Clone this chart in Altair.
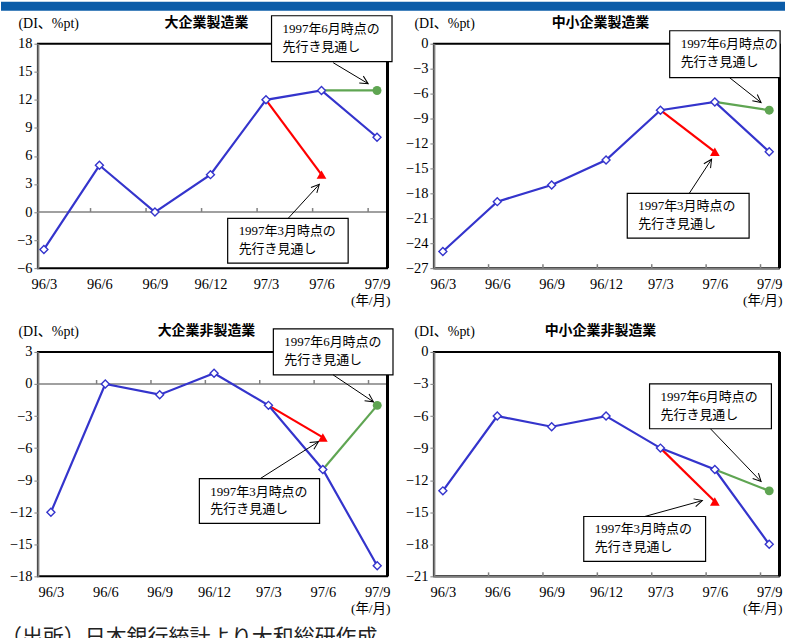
import json
import math

import altair as alt
import pandas as pd

# ---- data -------------------------------------------------------------
periods = ["96/3", "96/6", "96/9", "96/12", "97/3", "97/6", "97/9"]
titles = ["大企業製造業", "中小企業製造業", "大企業非製造業", "中小企業非製造業"]

large_mfg = [-4, 5, 0, 4, 12, 13, 8]
small_mfg = [-25, -19, -17, -14, -8, -7, -13]
large_nonmfg = [-12, 0, -1, 1, -2, -8, -17]
small_nonmfg = [-13, -6, -7, -6, -9, -11, -18]
actuals = [large_mfg, small_mfg, large_nonmfg, small_nonmfg]

# outlook for 97/6 given in the March 1997 survey, for 97/9 in the June 1997 survey
outlook_mar97 = [4, -13, -5, -14]
outlook_jun97 = [13, -8, -2, -13]

label_mar = "1997年3月時点の\n先行き見通し"
label_jun = "1997年6月時点の\n先行き見通し"
unit_y = "(DI、%pt)"
unit_x = "(年/月)"
source_note = "（出所）日本銀行統計より大和総研作成"

# ---- layout -----------------------------------------------------------
y_ranges = [(-6, 18), (-27, 0), (-18, 3), (-21, 0)]
x_ranges = [(-0.108, 6.18), (-0.165, 6.18), (-0.239, 6.18), (-0.165, 6.18)]
widths = [350, 346, 350, 346]
HEIGHT = 225
tick_marks = [0.84, 1.84, 2.84, 3.84, 4.84, 5.84]

# callout boxes [x1, x2, y1, y2] and leader arrows [x_from, y_from, x_to, y_to], data units
box_jun = [[4.10, 6.27, 16.08, 20.99], [4.17, 6.20, -4.08, 1.56],
           [4.09, 6.29, 0.85, 5.15], [3.80, 6.04, -7.19, -2.99]]
arrow_jun = [[5.21, 15.97, 5.84, 13.73], [5.27, -4.08, 5.85, -7.08],
             [5.19, 0.85, 5.93, -1.67], [4.92, -7.19, 5.85, -12.13]]
box_mar = [[3.31, 5.48, -5.47, -0.67], [3.39, 5.63, -23.4, -18.0],
           [2.73, 4.94, -13.05, -8.85], [2.59, 4.83, -19.6, -15.4]]
arrow_mar = [[4.40, -0.67, 4.96, 2.96], [4.53, -18.0, 4.94, -13.9],
             [3.85, -8.85, 4.92, -5.40], [3.71, -15.4, 4.77, -13.91]]

BLUE = "#3434CC"
RED = "#FF0000"
GREEN = "#5FA552"
GRAY = "#808080"
SERIF = "'Liberation Serif', 'DejaVu Serif', serif"
SERIF_JP = "'Liberation Serif', 'DejaVu Serif', 'Noto Sans CJK JP'"
SANS = "'Noto Sans CJK JP'"
ARROW_HEAD = "M -1 -0.5 L 0 0 L -1 0.5"


def make_panel(k):
    vals = actuals[k]
    lo, hi = y_ranges[k]
    x_lo, x_hi = x_ranges[k]
    w = widths[k]
    base = 0 if lo < 0 < hi else lo

    x_scale = alt.Scale(domain=[x_lo, x_hi], nice=False, zero=False)
    y_scale = alt.Scale(domain=[lo, hi], nice=False, zero=False)

    x_axis = alt.Axis(
        values=list(range(len(periods))), tickCount=40,
        labelExpr=f"{json.dumps(periods)}[datum.value]",
        ticks=False, grid=False, domain=(base == lo),
        domainColor=GRAY, domainWidth=2,
        labelFont=SERIF, labelFontSize=14.5, labelColor="black",
        labelPadding=9, labelFlush=False, labelOverlap=False,
        title=unit_x, titleFont=SERIF_JP, titleFontSize=13.5, titleFontWeight="normal",
        titleColor="black", titleAlign="right", titleBaseline="middle",
        titleX=w + 3, titleY=32,
    )
    y_axis = alt.Axis(
        values=list(range(lo, hi + 1, 3)), tickCount=40, format="d",
        grid=False, tickColor=GRAY, tickSize=4, domainColor=GRAY, domainWidth=2,
        labelFont=SERIF, labelFontSize=14.5, labelColor="black", labelPadding=2,
        labelOverlap=False, labelFlush=False,
        title=unit_y, titleFont=SERIF_JP, titleFontSize=14, titleFontWeight="normal",
        titleColor="black", titleAngle=0, titleAlign="left", titleBaseline="middle",
        titleX=-20, titleY=-20,
    )
    X = alt.X("i:Q", scale=x_scale, axis=x_axis)
    Y = alt.Y("v:Q", scale=y_scale, axis=y_axis)

    actual_df = pd.DataFrame({"i": list(range(len(vals))), "v": vals})
    mar_df = pd.DataFrame({"i": [4, 5], "v": [vals[4], outlook_mar97[k]]})
    jun_df = pd.DataFrame({"i": [5, 6], "v": [vals[5], outlook_jun97[k]]})
    tick_df = pd.DataFrame({"i": tick_marks, "v": [base] * len(tick_marks)})
    one = pd.DataFrame({"i": [0], "v": [0]})

    boxes = pd.DataFrame({
        "i": [box_mar[k][0], box_jun[k][0]], "i2": [box_mar[k][1], box_jun[k][1]],
        "v": [box_mar[k][2], box_jun[k][2]], "v2": [box_mar[k][3], box_jun[k][3]],
    })
    texts = pd.DataFrame({
        "i": [box_mar[k][0], box_jun[k][0]],
        "v": [box_mar[k][3], box_jun[k][3]],
        "label": [label_mar, label_jun],
    })
    sx = w / (x_hi - x_lo)
    sy = HEIGHT / (hi - lo)
    arrows = []
    for a in (arrow_mar[k], arrow_jun[k]):
        ang = math.degrees(math.atan2(-(a[3] - a[1]) * sy, (a[2] - a[0]) * sx)) % 360
        arrows.append({"i": a[0], "v": a[1], "i2": a[2], "v2": a[3], "ang": ang})
    arrows = pd.DataFrame(arrows)
    heads = pd.DataFrame({"i": arrows["i2"], "v": arrows["v2"], "ang": arrows["ang"]})

    layers = []
    if k == 0:
        # page header band
        layers.append(alt.Chart(one).mark_rect(color="#0B5CA8").encode(
            x=alt.value(-37), x2=alt.value(749), y=alt.value(-42), y2=alt.value(-33)))
    layers.append(alt.Chart(actual_df).mark_line(strokeWidth=0, opacity=0).encode(x=X, y=Y))
    if base == 0:
        layers.append(alt.Chart(one).mark_rule(color=GRAY, strokeWidth=1.5).encode(
            y=alt.Y("v:Q")))
    layers.append(alt.Chart(tick_df).mark_rule(color=GRAY, strokeWidth=1.5, y2Offset=-4).encode(
        x="i:Q", y="v:Q", y2="v:Q"))
    # right-hand frame edge, drawn a little heavier
    layers.append(alt.Chart(one).mark_rule(color="black", strokeWidth=3).encode(
        x=alt.value(w + 0.5)))
    layers.append(alt.Chart(mar_df).mark_line(color=RED, strokeWidth=2.2).encode(x="i:Q", y="v:Q"))
    layers.append(alt.Chart(jun_df).mark_line(color=GREEN, strokeWidth=2.2).encode(x="i:Q", y="v:Q"))
    layers.append(alt.Chart(actual_df).mark_line(color=BLUE, strokeWidth=2.2).encode(x="i:Q", y="v:Q"))
    layers.append(alt.Chart(actual_df).mark_point(
        shape="diamond", size=64, filled=True, fill="white", stroke=BLUE, strokeWidth=1.4,
        opacity=1).encode(x="i:Q", y="v:Q"))
    layers.append(alt.Chart(mar_df.iloc[[1]]).mark_point(
        shape="triangle-up", size=95, filled=True, color=RED, opacity=1).encode(x="i:Q", y="v:Q"))
    layers.append(alt.Chart(jun_df.iloc[[1]]).mark_point(
        shape="circle", size=80, filled=True, color=GREEN, opacity=1).encode(x="i:Q", y="v:Q"))
    layers.append(alt.Chart(boxes).mark_rect(fill="white", stroke="black", strokeWidth=1.2).encode(
        x="i:Q", x2="i2:Q", y="v:Q", y2="v2:Q"))
    layers.append(alt.Chart(texts).mark_text(
        align="left", baseline="top", dx=11, dy=7, lineBreak="\n", lineHeight=18,
        font=SERIF_JP, fontSize=13, color="black").encode(x="i:Q", y="v:Q", text="label:N"))
    layers.append(alt.Chart(arrows).mark_rule(color="black", strokeWidth=1).encode(
        x="i:Q", y="v:Q", x2="i2:Q", y2="v2:Q"))
    layers.append(alt.Chart(heads).mark_point(
        shape=ARROW_HEAD, size=256, filled=False, stroke="black", strokeWidth=1, opacity=1).encode(
        x="i:Q", y="v:Q", angle=alt.Angle("ang:Q", scale=None)))
    # panel heading
    layers.append(alt.Chart(one).mark_text(
        text=titles[k], align="center", baseline="middle", font=SANS, fontSize=14,
        fontWeight="bold", color="black").encode(x=alt.value(w / 2 - 6), y=alt.value(-21)))
    if k == 2:
        layers.append(alt.Chart(one).mark_text(
            text=source_note, align="left", baseline="top", font=SANS, fontSize=21,
            color="#222222").encode(x=alt.value(-37), y=alt.value(276)))

    return alt.layer(*layers).properties(width=w, height=HEIGHT)


chart = alt.concat(
    *[make_panel(k) for k in range(4)],
    columns=2, spacing={"row": 84, "column": 47}, bounds="flush",
).configure_view(stroke="black", strokeWidth=2).properties(
    padding=0, background="white")

chart.save("out.html", embed_options={"renderer": "svg", "actions": False})
